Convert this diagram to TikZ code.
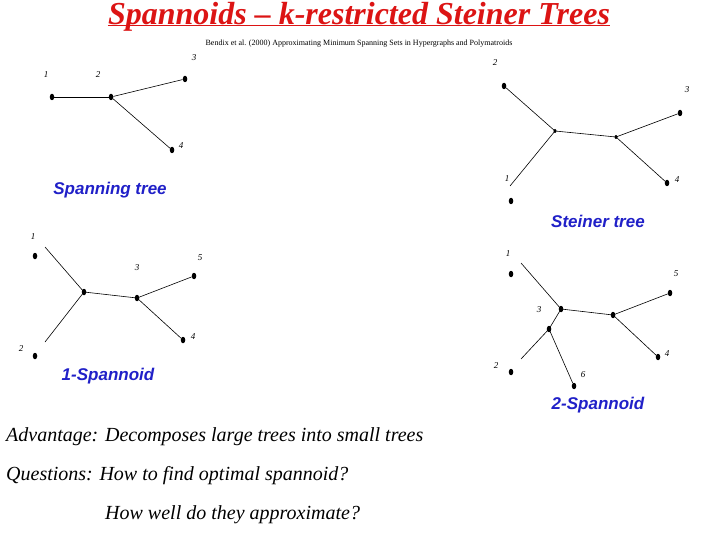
\documentclass[tikz,border=0pt]{standalone}
\usepackage{fontspec}
\setmainfont{Liberation Serif}
\newfontfamily\lsans{Liberation Sans}
\usetikzlibrary{shapes.geometric}
\definecolor{ttl}{RGB}{220,20,20}
\definecolor{lbl}{RGB}{32,32,200}
\begin{document}
\begin{tikzpicture}[x=1pt,y=-1pt,
  dot/.style={fill=black,ellipse,inner sep=0pt,minimum width=4.5pt,minimum height=6.5pt},
  num/.style={font=\fontsize{9}{10}\selectfont\itshape,inner sep=0pt},
  edge/.style={draw=black,line width=0.6pt},
  captext/.style={font=\lsans\bfseries\itshape\fontsize{17}{19}\selectfont,text=lbl},
  body/.style={font=\fontsize{20}{22}\selectfont\itshape,anchor=west,inner sep=0pt}]
\useasboundingbox[fill=white] (0,0) rectangle (720,540);
\node[font=\bfseries\itshape\fontsize{32}{34}\selectfont,text=ttl,inner sep=0pt] (title) at (359,17) {Spannoids -- k-restricted Steiner Trees};
\draw[ttl,line width=1.6pt] ([yshift=-1pt]title.base west) -- ([yshift=-1pt]title.base east);
\node[font=\fontsize{8}{9}\selectfont] (sub) at (359,44) {Bendix et al. (2000) Approximating Minimum Spanning Sets in Hypergraphs and Polymatroids};
% spanning tree
\node[dot] (a1) at (52,97) {}; \node[dot] (a2) at (111,97) {};
\node[dot] (a3) at (185,79) {}; \node[dot] (a4) at (172,150) {};
\node[num] (la1) at (46,75) {1}; \node[num] (la2) at (98,75) {2};
\node[num] (la3) at (194,58) {3}; \node[num] (la4) at (181,146) {4};
\draw[edge] (a1)--(a2); \draw[edge] (a2)--(a3); \draw[edge] (a2)--(a4);
\node[captext] (c1) at (110,190) {Spanning tree};
% steiner tree
\node[dot] (b2) at (504,86) {}; \node[dot] (b3) at (680,113) {};
\node[dot,minimum width=3pt,minimum height=4pt] (bs1) at (555,131) {};
\node[dot,minimum width=3pt,minimum height=4pt] (bs2) at (616,137) {};
\node[dot] (b4) at (667,183) {}; \node[dot] (b1) at (511,201) {};
\coordinate (b1e) at (510,186);
\node[num] (lb2) at (495,63) {2}; \node[num] (lb3) at (687,90) {3};
\node[num] (lb4) at (677,180) {4}; \node[num] (lb1) at (507,179) {1};
\draw[edge] (b2)--(bs1.center); \draw[edge] (bs1.center)--(bs2.center);
\draw[edge] (bs2.center)--(b3); \draw[edge] (bs2.center)--(b4); \draw[edge] (bs1.center)--(b1e);
\node[captext] (c2) at (598,221) {Steiner tree};
% 1-spannoid
\node[dot] (d1) at (35,256) {}; \node[dot] (d2) at (35,356) {};
\node[dot] (ds1) at (84,292) {}; \node[dot] (ds2) at (137,298) {};
\node[dot] (d5) at (194,276) {}; \node[dot] (d4) at (183,340) {};
\coordinate (d1e) at (45,247); \coordinate (d2e) at (45,342);
\node[num] (ld1) at (33,237) {1}; \node[num] (ld2) at (21,349) {2};
\node[num] (ld3) at (137,268) {3}; \node[num] (ld4) at (193,337) {4};
\node[num] (ld5) at (200,258) {5};
\draw[edge] (d1e)--(ds1.center); \draw[edge] (ds1.center)--(d2e);
\draw[edge] (ds1.center)--(ds2.center); \draw[edge] (ds2.center)--(d5); \draw[edge] (ds2.center)--(d4);
\node[captext] (c3) at (108,376) {1-Spannoid};
% 2-spannoid
\node[dot] (e1) at (511,274) {}; \node[dot] (e2) at (511,372) {};
\node[dot] (es1) at (561,309) {}; \node[dot] (es2) at (613,315) {};
\node[dot] (es3) at (549,329) {};
\node[dot] (e5) at (670,293) {}; \node[dot] (e4) at (658,357) {};
\node[dot] (e6) at (574,386) {};
\coordinate (e1e) at (521,263); \coordinate (e2e) at (521,359);
\node[num] (le1) at (508,254) {1}; \node[num] (le2) at (496,366) {2};
\node[num] (le3) at (539,310) {3}; \node[num] (le4) at (667,354) {4};
\node[num] (le5) at (676,274) {5}; \node[num] (le6) at (583,375) {6};
\draw[edge] (e1e)--(es1.center); \draw[edge] (es1.center)--(es2.center);
\draw[edge] (es2.center)--(e5); \draw[edge] (es2.center)--(e4);
\draw[edge] (es1.center)--(es3.center); \draw[edge] (es3.center)--(e2e); \draw[edge] (es3.center)--(e6);
\node[captext] (c4) at (598,405) {2-Spannoid};
% text
\node[body] (t1) at (6,437) {Advantage: Decomposes large trees into small trees};
\node[body] (t2) at (6,476) {Questions: How to find optimal spannoid?};
\node[body] (t3) at (105,515) {How well do they approximate?};
\end{tikzpicture}
\end{document}
